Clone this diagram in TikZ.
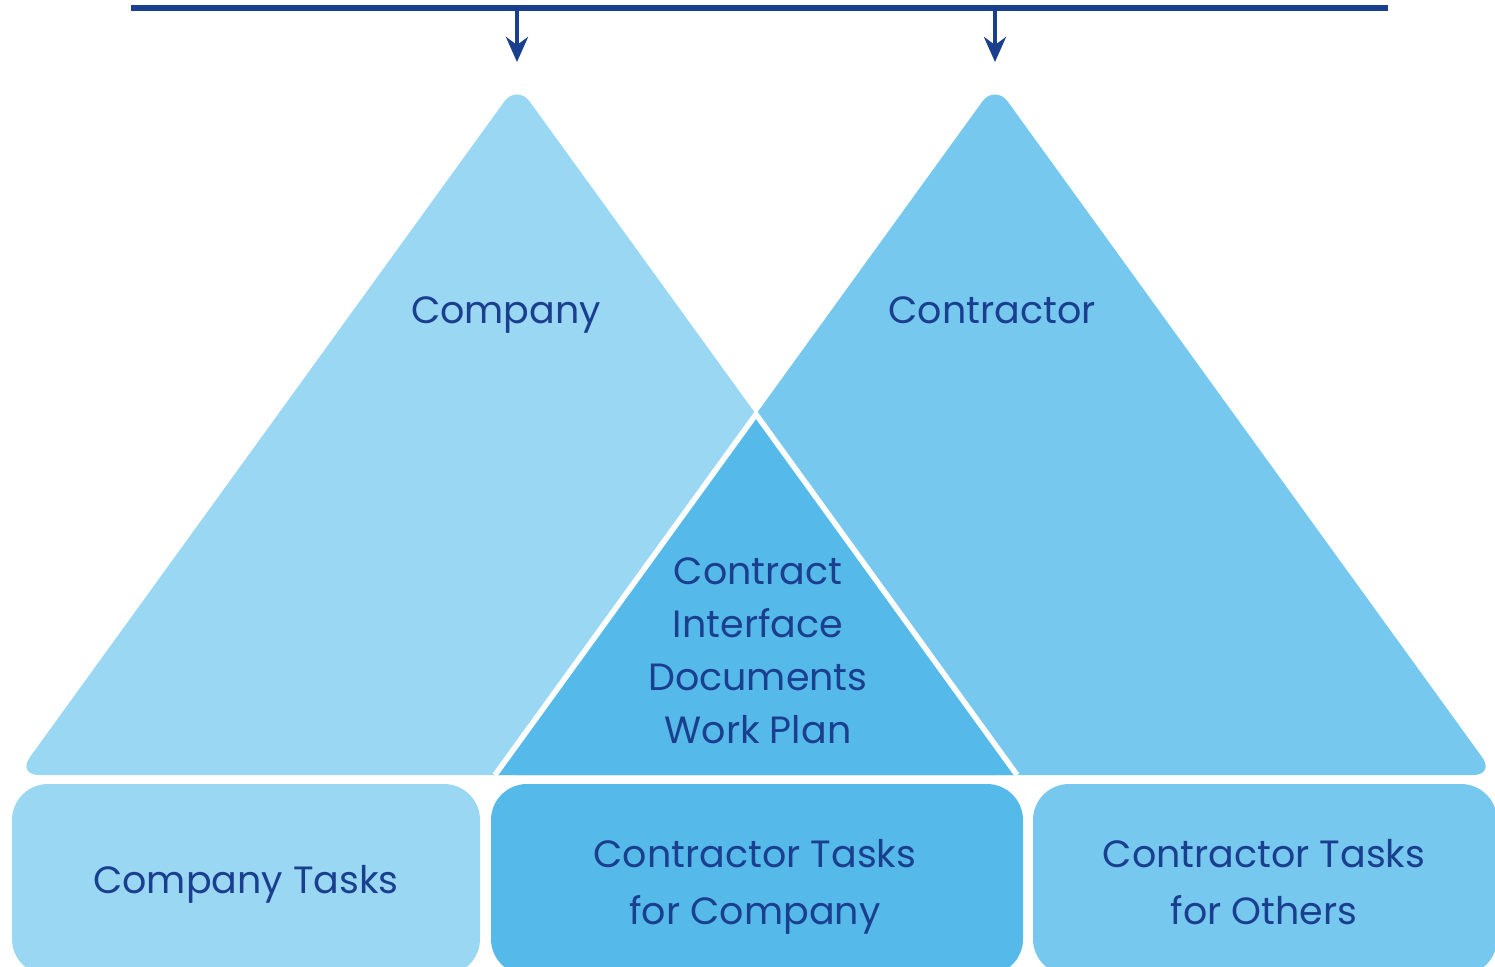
\documentclass[tikz,border=0pt]{standalone}
\usepackage{fontspec}
\setmainfont{Poppins}
\usetikzlibrary{arrows.meta}
\definecolor{navy}{HTML}{1B3F8F}
\definecolor{companyblue}{HTML}{9AD7F3}
\definecolor{contractorblue}{HTML}{76C8EE}
\definecolor{interfaceblue}{HTML}{55BAE9}
\tikzset{
  labeltext/.style={text=navy, font=\fontsize{38}{53}\selectfont, align=center, inner sep=0pt, anchor=base},
  tasktext/.style={labeltext, font=\fontsize{38}{57}\selectfont},
  drop/.style={navy, line width=4pt, -{Stealth[length=25pt,width=22pt,inset=8pt]}}
}
\begin{document}
\begin{tikzpicture}[x=1pt,y=-1pt]
        \useasboundingbox (0,0) rectangle (1495,966);
        \clip (0,0) rectangle (1495,966);

        \coordinate (busL) at (131,8);
        \coordinate (busR) at (1388,8);
        \coordinate (dropA) at (517,8);
        \coordinate (tipA) at (517,62);
        \coordinate (dropB) at (995,8);
        \coordinate (tipB) at (995,62);
        \draw[navy, line width=6pt] (busL) -- (busR);
        \draw[drop] (dropA) -- (tipA);
        \draw[drop] (dropB) -- (tipB);

        \fill[companyblue, rounded corners=22pt] (17,775) -- (517,84) -- (1017,775) -- cycle;
        \fill[contractorblue, rounded corners=22pt] (495,775) -- (995,84) -- (1495,775) -- cycle;

        \coordinate (meet) at (756,414.3);
        \fill[interfaceblue] (495,775) -- (meet) -- (1017,775) -- cycle;
        \draw[white, line width=5.5pt] (495,775) -- (meet) -- (1017,775);

        \fill[companyblue, rounded corners=36pt] (12,784) rectangle (480,975);
        \fill[interfaceblue, rounded corners=36pt] (491,784) rectangle (1023,975);
        \fill[contractorblue, rounded corners=36pt] (1033,784) rectangle (1497,975);

        \node[labeltext] (company) at (506,323) {Company};
        \node[labeltext] (contractor) at (992,323) {Contractor};
        \node[labeltext] (interface) at (758,743) {Contract\\Interface\\Documents\\Work Plan};

        \node[tasktext] (comptasks) at (246,893) {Company Tasks};
        \node[tasktext] (forcompany) at (755,924) {Contractor Tasks\\for Company};
        \node[tasktext] (forothers) at (1264,924) {Contractor Tasks\\for Others};
\end{tikzpicture}
\end{document}
